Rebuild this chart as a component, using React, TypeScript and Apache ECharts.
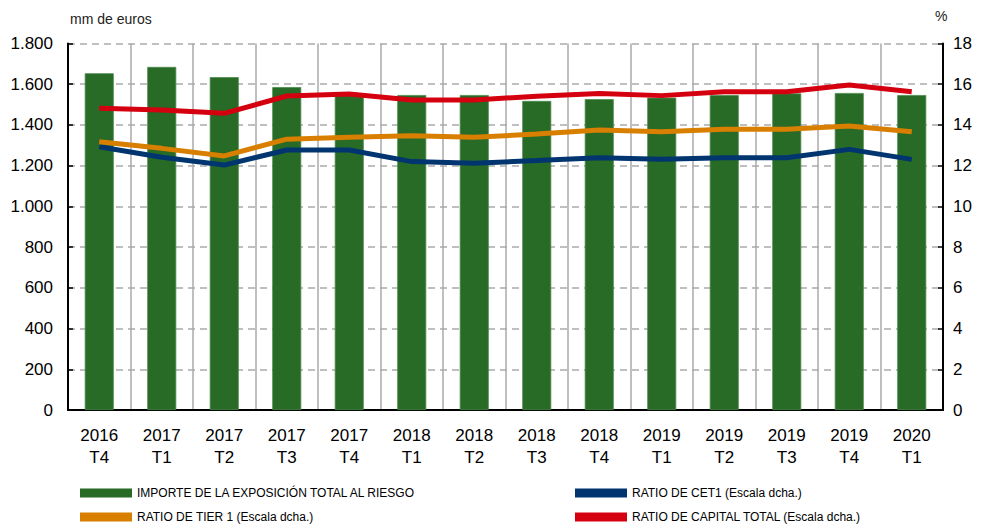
import React, { useEffect, useRef } from "react";
import * as echarts from "echarts";

const categories = [
  "2016\nT4", "2017\nT1", "2017\nT2", "2017\nT3", "2017\nT4",
  "2018\nT1", "2018\nT2", "2018\nT3", "2018\nT4",
  "2019\nT1", "2019\nT2", "2019\nT3", "2019\nT4", "2020\nT1",
];

const exposure = [1654, 1685, 1635, 1586, 1555, 1547, 1547, 1518, 1527, 1534, 1547, 1555, 1557, 1547];
const cet1 = [12.93, 12.41, 12.03, 12.77, 12.77, 12.2, 12.12, 12.25, 12.39, 12.31, 12.39, 12.39, 12.8, 12.31];
const tier1 = [13.18, 12.85, 12.48, 13.3, 13.39, 13.47, 13.39, 13.56, 13.75, 13.67, 13.79, 13.79, 13.95, 13.67];
const capitalTotal = [14.82, 14.73, 14.57, 15.42, 15.52, 15.23, 15.23, 15.41, 15.55, 15.44, 15.63, 15.63, 15.96, 15.63];

const names = {
  bar: "IMPORTE DE LA EXPOSICIÓN TOTAL AL RIESGO",
  cet1: "RATIO DE CET1 (Escala dcha.)",
  tier1: "RATIO DE TIER 1 (Escala dcha.)",
  total: "RATIO DE CAPITAL TOTAL (Escala dcha.)",
};

const FONT = "'Liberation Sans', Arial, sans-serif";

export default function App() {
  const ref = useRef<HTMLDivElement>(null);
  useEffect(() => {
    if (!ref.current) return;
    const chart = echarts.init(ref.current, undefined, { renderer: "svg" });
    const legendText = { color: "#000", fontSize: 12, fontFamily: FONT };
    const mkLegend = (name: string, left: number, top: number) => ({
      left, top, orient: "horizontal", itemWidth: 52, itemHeight: 9, itemGap: 5,
      textStyle: legendText, selectedMode: false,
      data: [{ name, icon: "rect", itemStyle: { borderWidth: 0 } }],
    });
    chart.setOption({
      animation: false,
      backgroundColor: "#fff",
      textStyle: { fontFamily: FONT },
      grid: { left: 68, right: 41, top: 43.5, bottom: 115, containLabel: false },
      graphic: [
        { type: "text", left: 70, top: 12, style: { text: "mm de euros", fontSize: 14, fontFamily: FONT, fill: "#222" } },
        { type: "text", left: 935, top: 9, style: { text: "%", fontSize: 14, fontFamily: FONT, fill: "#222" } },
      ],
      legend: [
        mkLegend(names.bar, 75, 482),
        mkLegend(names.tier1, 75, 506),
        mkLegend(names.cet1, 570, 482),
        mkLegend(names.total, 570, 506),
      ],
      xAxis: {
        type: "category",
        data: categories,
        boundaryGap: true,
        axisLine: { lineStyle: { color: "#000", width: 2 } },
        axisTick: { inside: true, length: 5, lineStyle: { color: "#000", width: 1.5 } },
        axisLabel: { color: "#000", fontSize: 17, lineHeight: 22, margin: 14, fontFamily: FONT, interval: 0 },
        splitLine: { show: true, interval: 0, lineStyle: { color: "#aaa", width: 1.5 } },
      },
      yAxis: [
        {
          type: "value", min: 0, max: 1800, interval: 200,
          axisLine: { show: true, lineStyle: { color: "#000", width: 2 } },
          axisTick: { show: true, inside: true, length: 5, lineStyle: { color: "#000", width: 1.5 } },
          axisLabel: {
            color: "#000", fontSize: 17, margin: 15, fontFamily: FONT,
            formatter: (v: number) => v.toLocaleString("de-DE"),
          },
          splitLine: { show: true, lineStyle: { color: "#aaa", width: 1.5, type: [7, 5] } },
        },
        {
          type: "value", min: 0, max: 18, interval: 2, position: "right",
          axisLine: { show: true, lineStyle: { color: "#000", width: 2 } },
          axisTick: { show: true, inside: true, length: 5, lineStyle: { color: "#000", width: 1.5 } },
          axisLabel: { color: "#000", fontSize: 17, margin: 10, fontFamily: FONT },
          splitLine: { show: false },
        },
      ],
      series: [
        {
          name: names.bar, type: "bar", data: exposure, yAxisIndex: 0, barWidth: 29,
          itemStyle: { color: "#276B26", borderColor: "#4d8a4c", borderWidth: 0.8 },
        },
        {
          name: names.cet1, type: "line", data: cet1, yAxisIndex: 1, symbol: "none",
          lineStyle: { color: "#003570", width: 5 }, itemStyle: { color: "#003570" },
        },
        {
          name: names.tier1, type: "line", data: tier1, yAxisIndex: 1, symbol: "none",
          lineStyle: { color: "#D97F00", width: 5 }, itemStyle: { color: "#D97F00" },
        },
        {
          name: names.total, type: "line", data: capitalTotal, yAxisIndex: 1, symbol: "none",
          lineStyle: { color: "#D5000F", width: 5 }, itemStyle: { color: "#D5000F" },
        },
      ],
    });
    return () => chart.dispose();
  }, []);
  return <div ref={ref} style={{ width: 984, height: 525, position: "absolute", left: 0, top: 0 }} />;
}
